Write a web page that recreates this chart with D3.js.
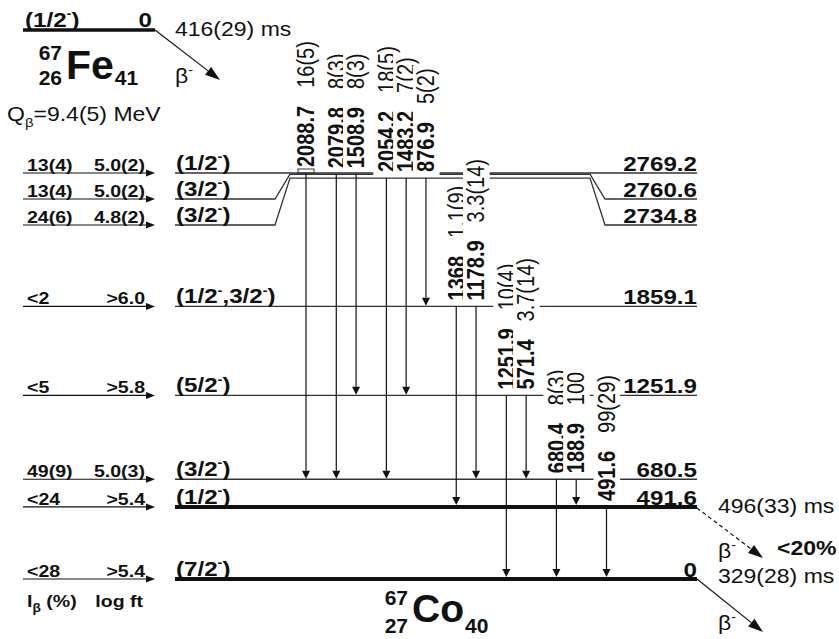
<!DOCTYPE html>
<html>
<head>
<meta charset="utf-8">
<script src="https://cdn.jsdelivr.net/npm/d3@7"></script>
<style>
  body { margin: 0; background: #fff; }
  svg { display: block; font-family: "Liberation Sans", Arial, Helvetica, sans-serif; }
</style>
</head>
<body>
<svg id="chart" width="839" height="639"></svg>
<script>
// 67Co levels fed in the beta decay of 67Fe (keV)
var levelEnergies = [0, 491.6, 680.5, 1251.9, 1859.1, 2734.8, 2760.6, 2769.2];
var levelLabels   = ["0", "491.6", "680.5", "1251.9", "1859.1", "2734.8", "2760.6", "2769.2"];
var levelSpins    = ["(7/2-)", "(1/2-)", "(3/2-)", "(5/2-)", "(1/2-,3/2-)", "(3/2-)", "(3/2-)", "(1/2-)"];
var betaFeeding   = ["<28", "<24", "49(9)", "<5", "<2", "24(6)", "13(4)", "13(4)"];
var logFt         = [">5.4", ">5.4", "5.0(3)", ">5.8", ">6.0", "4.8(2)", "5.0(2)", "5.0(2)"];
var longLived     = [0, 491.6];   // drawn thick

// gamma transitions
var gammaEnergies    = ["2088.7", "2079.8", "1508.9", "2054.2", "1483.2", "876.9", "1368", "1178.9", "1251.9", "571.4", "680.4", "188.9", "491.6"];
var gammaIntensities = ["16(5)", "8(3)", "8(3)", "18(5)", "7(2)", "5(2)", "1.1(9)", "3.3(14)", "10(4)", "3.7(14)", "8(3)", "100", "99(29)"];
var gammaFrom = [2769.2, 2760.6, 2760.6, 2734.8, 2734.8, 2734.8, 1859.1, 1859.1, 1251.9, 1251.9, 680.5, 680.5, 491.6];
var gammaTo   = [680.5, 680.5, 1251.9, 680.5, 1251.9, 1859.1, 491.6, 680.5, 0, 680.5, 0, 491.6, 0];

// parent and half-lives
var parentSpin = "(1/2-)";
var parentLevel = "0";
var parentHalfLife = "416(29) ms";
var qValue = "9.4(5) MeV";
var isomerHalfLife = "496(33) ms";
var isomerBranch = "<20%";
var groundHalfLife = "329(28) ms";

var SX = 1.15;   // the figure's lettering is a little wide
var ink = "#111";
var svg = d3.select("#chart");

var y = d3.scaleLinear().domain([0, 2769.2]).range([579, 173]);

// spread the level labels so close levels do not collide
var labelY = [];
var order = levelEnergies.map(function(d, i) { return i; })
  .sort(function(a, b) { return levelEnergies[b] - levelEnergies[a]; });
var prev = -Infinity;
order.forEach(function(i) {
  var ly = Math.max(y(levelEnergies[i]), prev + 26);
  labelY[i] = ly;
  prev = ly;
});

// gamma columns, grouped by initial level
var slots = [];
var grp = 0;
gammaFrom.forEach(function(f, i) {
  if (i > 0 && f !== gammaFrom[i - 1]) grp++;
  slots.push(i + 0.53 * grp);
});
var x = d3.scaleLinear().domain([0, d3.max(slots)]).range([306, 606.5]);

function addText(parent, tx, ty, size, weight, anchor) {
  return parent.append("text")
    .attr("transform", "translate(" + tx + "," + ty + ") scale(" + SX + ",1)")
    .attr("font-size", size)
    .attr("font-weight", weight || "normal")
    .attr("text-anchor", anchor || "start")
    .attr("fill", ink);
}

// writes "(1/2-)" with the minus raised
function spinText(t, spin, size) {
  var parts = spin.split("-");
  var shift = size * 0.42;
  parts.forEach(function(p, i) {
    t.append("tspan").attr("dy", i ? shift : null).text(p);
    if (i < parts.length - 1) {
      t.append("tspan").attr("font-size", size * 0.6).attr("dy", -shift).text("-");
    }
  });
}

function arrow(parent, x1, y1, x2, y2, len, w, dashed) {
  var a = Math.atan2(y2 - y1, x2 - x1);
  var bx = x2 - len * Math.cos(a), by = y2 - len * Math.sin(a);
  parent.append("line")
    .attr("x1", x1).attr("y1", y1).attr("x2", bx).attr("y2", by)
    .attr("stroke", ink).attr("stroke-width", 1.2)
    .attr("stroke-dasharray", dashed ? "4,3" : null);
  var px = Math.sin(a) * w / 2, py = -Math.cos(a) * w / 2;
  parent.append("path")
    .attr("d", "M" + x2 + "," + y2 + "L" + (bx + px) + "," + (by + py) + "L" + (bx - px) + "," + (by - py) + "Z")
    .attr("fill", ink);
}

// ---- levels
var gLevels = svg.append("g");
levelEnergies.forEach(function(e, i) {
  var ly = labelY[i], y0 = y(e);
  var d = Math.abs(ly - y0) < 0.5
    ? "M175," + y0 + "H697"
    : "M175," + ly + "H275L290," + y0 + "H590L605," + ly + "H697";
  gLevels.append("path")
    .attr("d", d)
    .attr("fill", "none")
    .attr("stroke", longLived.indexOf(e) > -1 ? ink : "#333")
    .attr("stroke-width", longLived.indexOf(e) > -1 ? 4 : 1.3);
});

// ---- gamma labels with white knock-outs
var gLab = svg.append("g").selectAll("g")
  .data(gammaEnergies)
  .join("g")
  .attr("transform", function(d, i) {
    return "translate(" + x(slots[i]) + "," + (y(gammaFrom[i]) - 6) + ") scale(" + SX + ",1) rotate(-90)";
  });
gLab.append("rect").attr("fill", "#fff");
var gt = gLab.append("text").attr("font-size", 20).attr("fill", ink);
gt.append("tspan").attr("dy", "0.36em").attr("font-weight", "bold").text(function(d) { return d; });
gt.append("tspan").attr("dx", 18).text(function(d, i) { return gammaIntensities[i]; });
gLab.each(function() {
  var b = d3.select(this).select("text").node().getBBox();
  d3.select(this).select("rect")
    .attr("x", b.x - 3).attr("y", b.y)
    .attr("width", b.width + 6).attr("height", b.height);
});

// ---- gamma lines
var gGam = svg.append("g");
gammaEnergies.forEach(function(d, i) {
  var gx = x(slots[i]);
  var tip = y(gammaTo[i]) - (longLived.indexOf(gammaTo[i]) > -1 ? 2 : 0.6);
  arrow(gGam, gx, y(gammaFrom[i]), gx, tip, 8, 8);
});
gGam.append("rect")
  .attr("x", x(slots[0]) - 8).attr("y", y(gammaFrom[0]) - 4)
  .attr("width", 16).attr("height", 4)
  .attr("fill", "none").attr("stroke", "#333").attr("stroke-width", 1);

// ---- feeding arrows and level texts
var gTxt = svg.append("g");
levelEnergies.forEach(function(e, i) {
  var ly = labelY[i];
  arrow(gTxt, 23, ly, 155, ly, 9, 7);
  addText(gTxt, 27, ly - 2, 17, "bold").text(betaFeeding[i]);
  addText(gTxt, 145, ly - 2, 17, "bold", "end").text(logFt[i]);
  spinText(addText(gTxt, 176, ly - 3, 21, "bold"), levelSpins[i], 21);
  addText(gTxt, 697, ly - 2, 21, "bold", "end").text(levelLabels[i]);
});

var lab = addText(gTxt, 27, 607, 17, "bold");
lab.append("tspan").text("I");
lab.append("tspan").attr("font-size", 12).attr("dy", 5).text("\u03b2");
lab.append("tspan").attr("dy", -5).text(" (%)");
addText(gTxt, 143, 607, 17, "bold", "end").text("log ft");

// ---- parent 67Fe
var gPar = svg.append("g");
gPar.append("path").attr("d", "M23,30H155").attr("stroke", ink).attr("stroke-width", 3.5);
spinText(addText(gPar, 25, 27, 21, "bold"), parentSpin, 21);
addText(gPar, 152, 27, 21, "bold", "end").text(parentLevel);
arrow(gPar, 155, 30, 220, 80, 15, 10);
addText(gPar, 175, 36, 20).text(parentHalfLife);
var b1 = addText(gPar, 175, 83, 20);
b1.append("tspan").text("\u03b2");
b1.append("tspan").attr("font-size", 12).attr("dy", -9).text("-");

var q = addText(gPar, 7, 121, 20);
q.append("tspan").text("Q");
q.append("tspan").attr("font-size", 13).attr("dy", 6).text("\u03b2");
q.append("tspan").attr("dy", -6).text("=" + qValue);

function nuclide(parent, ax, base, A, Z, sym, N, big, up, down) {
  parent.append("text").attr("x", ax).attr("y", base - up).attr("text-anchor", "end")
    .attr("font-size", 21).attr("font-weight", "bold").attr("fill", ink).text(A);
  parent.append("text").attr("x", ax).attr("y", base + down).attr("text-anchor", "end")
    .attr("font-size", 21).attr("font-weight", "bold").attr("fill", ink).text(Z);
  var s = parent.append("text").attr("x", ax + 4).attr("y", base)
    .attr("font-size", big).attr("font-weight", "bold").attr("fill", ink).text(sym);
  var w = s.node().getComputedTextLength();
  parent.append("text").attr("x", ax + 5 + w).attr("y", base + down)
    .attr("font-size", 21).attr("font-weight", "bold").attr("fill", ink).text(N);
}
nuclide(gPar, 62, 79, "67", "26", "Fe", "41", 41, 19, 6);

// ---- daughter 67Co
var gDau = svg.append("g");
nuclide(gDau, 408, 622, "67", "27", "Co", "40", 39, 17, 11);

arrow(gDau, 697, 508, 763, 558, 15, 10, true);
arrow(gDau, 697, 579, 763, 632, 15, 10);
addText(gDau, 718, 513, 20).text(isomerHalfLife);
addText(gDau, 718, 583, 20).text(groundHalfLife);
addText(gDau, 777, 555, 20, "bold").text(isomerBranch);
[558, 630].forEach(function(by) {
  var bt = addText(gDau, 718, by, 20);
  bt.append("tspan").text("\u03b2");
  bt.append("tspan").attr("font-size", 12).attr("dy", -9).text("-");
});
</script>
</body>
</html>
